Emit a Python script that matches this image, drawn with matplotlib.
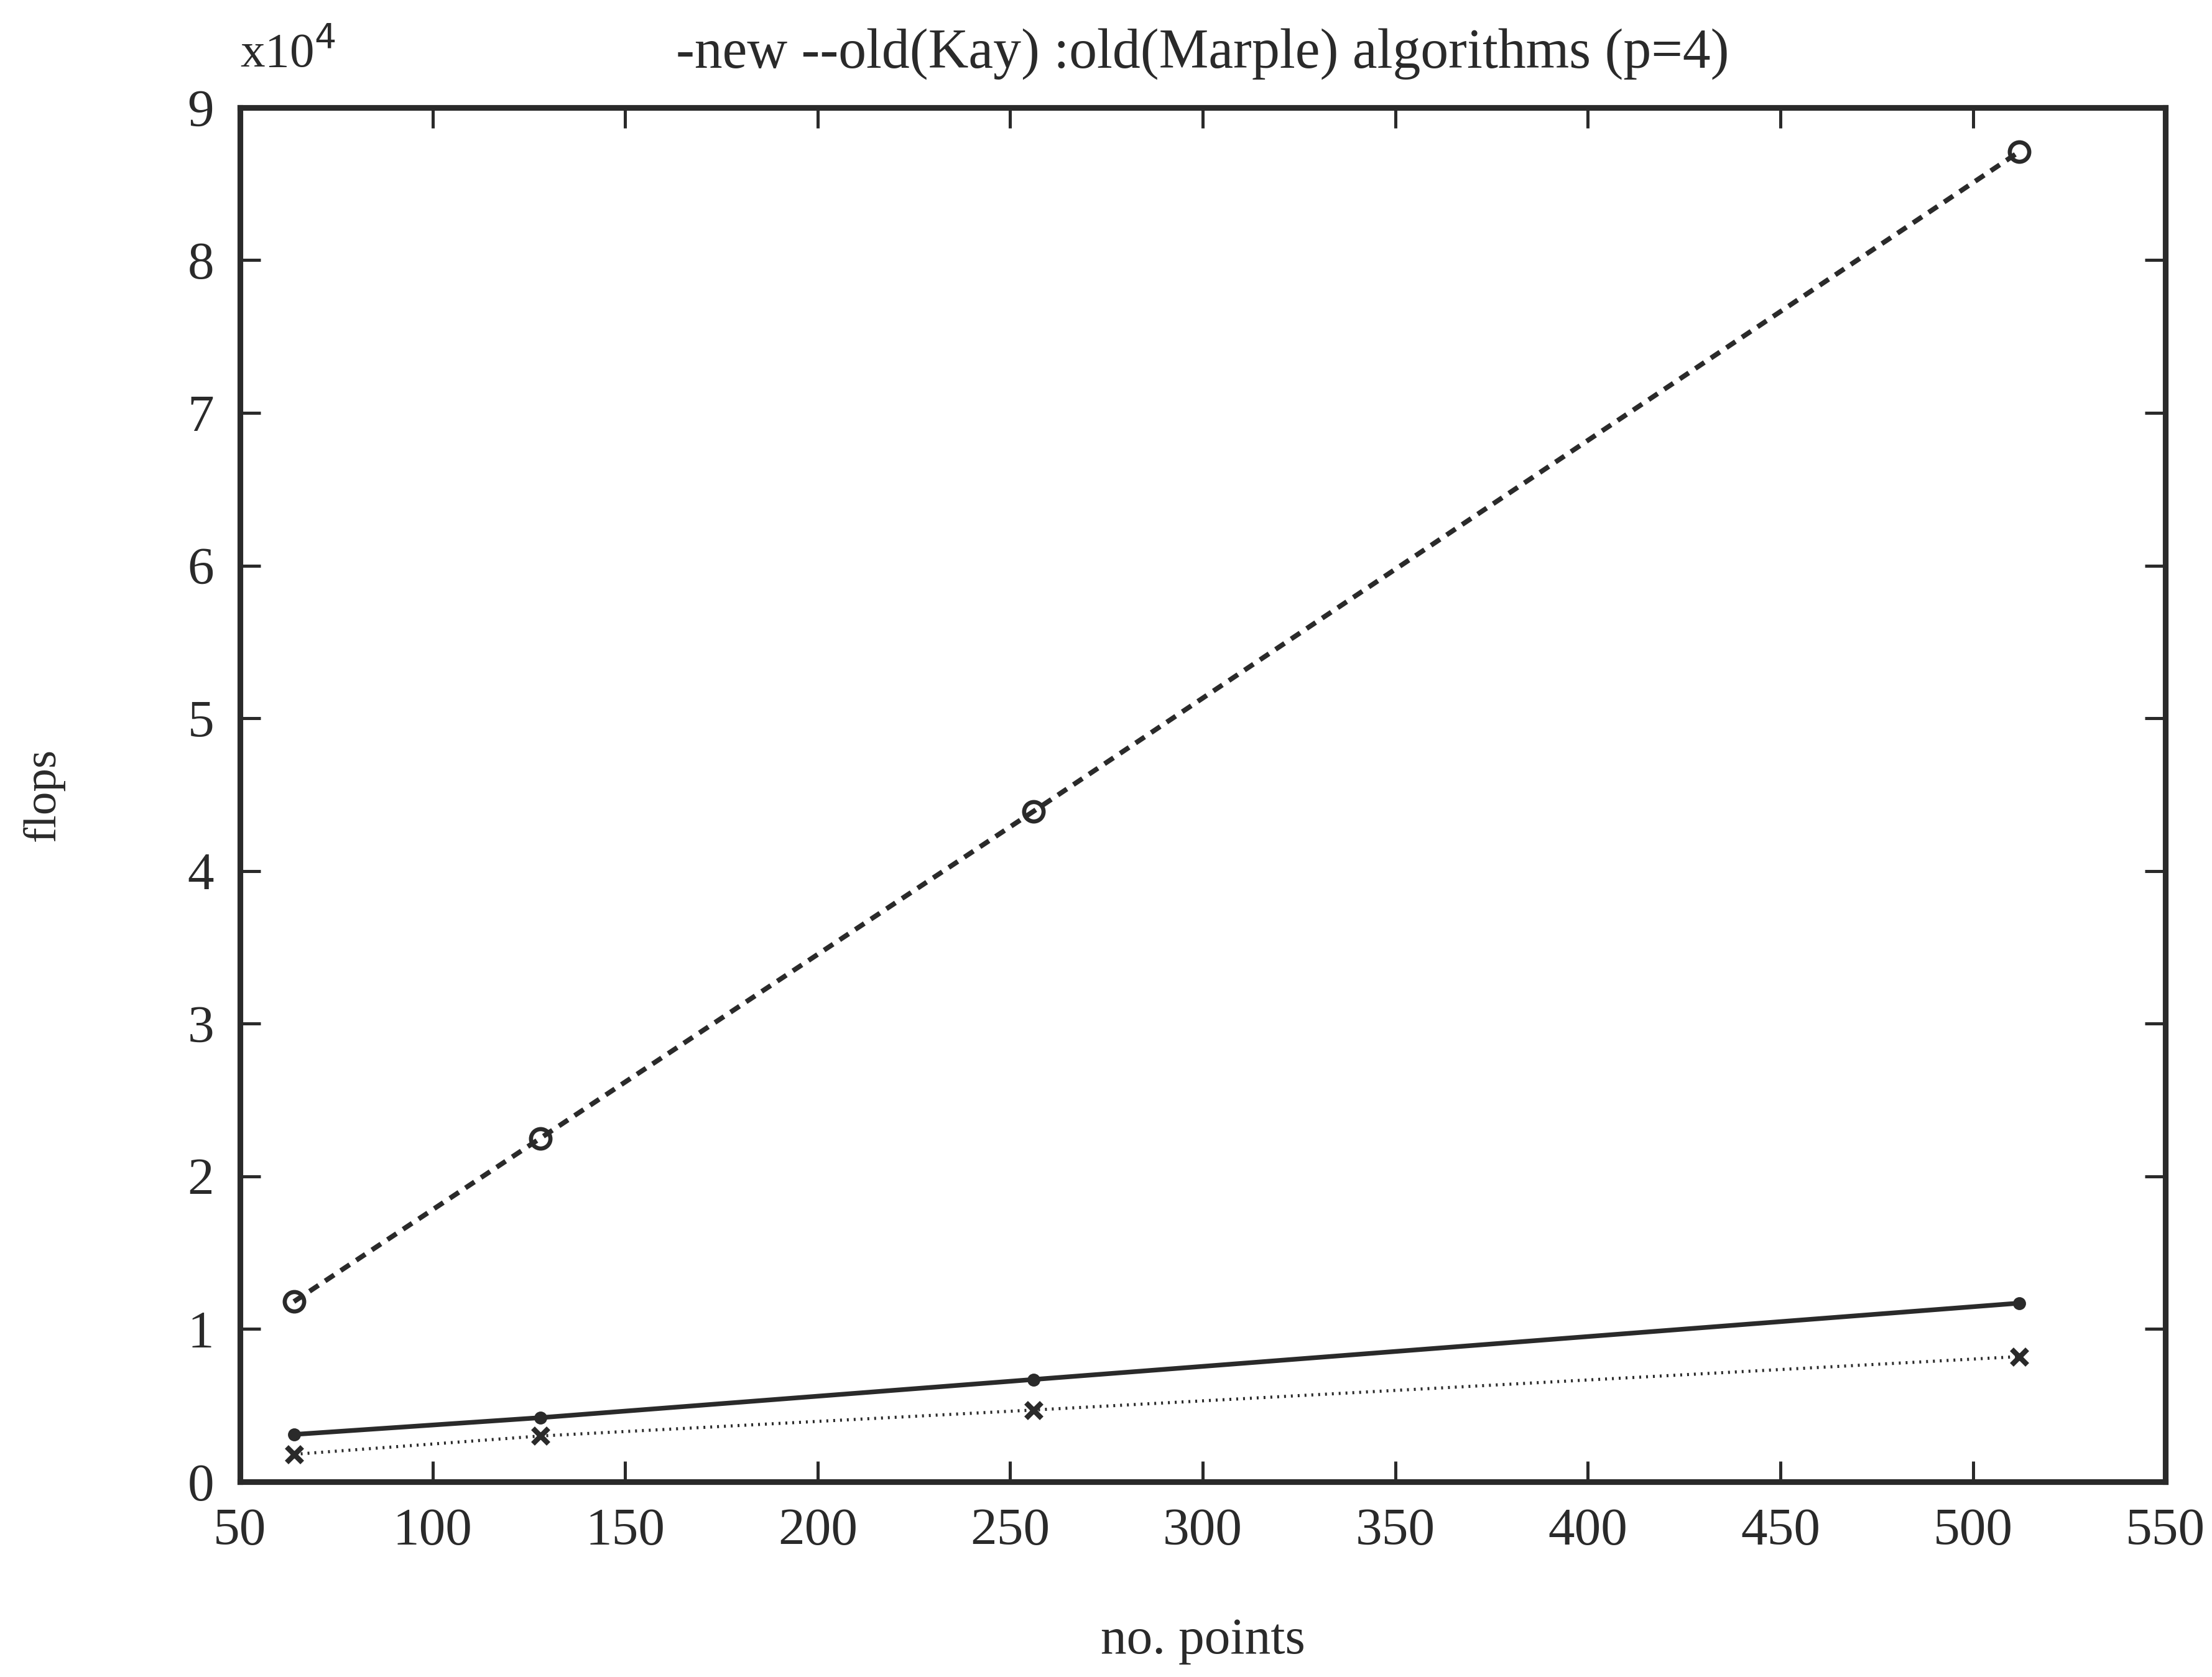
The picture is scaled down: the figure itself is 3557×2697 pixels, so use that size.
import matplotlib
matplotlib.use("Agg")
import matplotlib.pyplot as plt

# problem sizes (number of points)
n_points = [64, 128, 256, 512]

# operation counts, in units of 1e4 flops
flops_new = [0.31, 0.42, 0.67, 1.17]
flops_kay = [1.18, 2.25, 4.39, 8.71]
flops_marple = [0.18, 0.30, 0.47, 0.82]

x_ticks = [50, 100, 150, 200, 250, 300, 350, 400, 450, 500, 550]
y_ticks = [0, 1, 2, 3, 4, 5, 6, 7, 8, 9]

plt.rcParams["font.family"] = ["Liberation Serif", "DejaVu Serif"]
ink = "#2a2a2a"

fig = plt.figure(figsize=(3557 / 300, 2697 / 300), dpi=300)
ax = fig.add_axes([0.1085, 0.1164, 0.8705, 0.8195])

ax.plot(n_points, flops_new, "-", color=ink, lw=1.8,
        marker="o", ms=4, mfc=ink, mec=ink)
ax.plot(n_points, flops_kay, color=ink, lw=1.9, ls=(0, (2.2, 1.6)),
        marker="o", ms=7.5, mfc="none", mec=ink, mew=1.6)
ax.plot(n_points, flops_marple, color=ink, lw=1.2, ls=(0, (0.6, 1.6)),
        marker="x", ms=6, mec=ink, mew=2.0)

ax.set_xlim(50, 550)
ax.set_ylim(0, 9)
ax.set_xticks(x_ticks)
ax.set_yticks(y_ticks)
ax.tick_params(direction="in", length=8, width=1.2, colors=ink,
               top=True, right=True, labelsize=20.5, pad=10)
for s in ax.spines.values():
    s.set_linewidth(2.2)
    s.set_color(ink)

ax.set_xlabel("no. points", fontsize=20, color=ink)
ax.xaxis.set_label_coords(0.5, -0.116)
ax.xaxis.label.set_va("center")
ax.set_ylabel("flops", fontsize=18, color=ink)
ax.yaxis.set_label_coords(-0.102, 0.5)
ax.yaxis.label.set_va("center")

fig.text(0.1085, 0.968, "x10$^4$", fontsize=19, color=ink,
         ha="left", va="center")
fig.text(0.5438, 0.968, "-new --old(Kay) :old(Marple) algorithms (p=4)",
         fontsize=21.5, color=ink, ha="center", va="center")

fig.savefig("out.png", dpi=300, facecolor="white")
